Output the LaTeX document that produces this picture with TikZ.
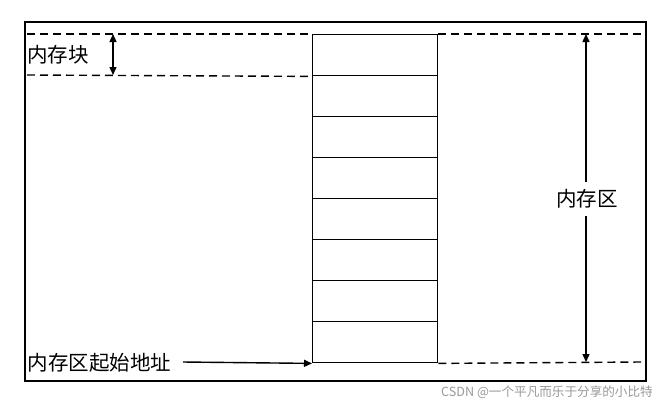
\documentclass[tikz,border=0pt]{standalone}
\usepackage{fontspec}
\newfontfamily\cjk{Noto Sans CJK SC}
\usetikzlibrary{arrows.meta}
\begin{document}
\begin{tikzpicture}[x=1pt,y=-1pt,line width=1.4pt,
  >={Triangle[length=8pt,width=7pt]},
  cell/.style={draw,minimum width=125pt,minimum height=41pt,inner sep=0pt,anchor=north west},
  guide/.style={dash pattern=on 8pt off 5pt},
  lbl/.style={font=\cjk\fontsize{20.5}{22}\selectfont,inner sep=0pt},
  wmark/.style={font=\cjk\fontsize{12.6}{14}\selectfont,text=black!40,inner sep=0pt}]
\useasboundingbox (0,0) rectangle (662,408);
\node[draw,line width=1.6pt,minimum width=621pt,minimum height=359pt,inner sep=0pt,anchor=north west] (frame) at (24,21) {};
\foreach \i in {1,...,8}{
  \node[cell] (c\i) at (312,{34+41*(\i-1)}) {};
}
\coordinate (lt) at (27,34);
\coordinate (lb) at (27,75);
\coordinate (rt) at (641,34);
\coordinate (rb) at (641,362);
\draw[guide] (lt) -- (c1.north west);
\draw[guide] (lb) -- (c1.south west);
\draw[guide] (c1.north east) -- (rt);
\draw[guide] (c8.south east) -- (rb);
% memory block
\coordinate (bt) at (113,34);
\coordinate (bb) at (113,75);
\draw[<->] (bt) -- (bb);
\node[lbl] (blk) at (58,55) {内存块};
% memory zone
\coordinate (zt) at (586,34);
\coordinate (zb) at (586,362);
\node[lbl,inner ysep=7pt] (zone) at (587,199) {内存区};
\draw[->] (zone.north -| zt) -- (zt);
\draw[->] (zone.south -| zb) -- (zb);
% start address
\node[lbl] (start) at (99.5,363) {内存区起始地址};
\coordinate (sa) at (183,362);
\draw[->] (sa) -- (c8.south west);
% watermark
\node[wmark] (wm) at (547,392) {CSDN @一个平凡而乐于分享的小比特};
\end{tikzpicture}
\end{document}
